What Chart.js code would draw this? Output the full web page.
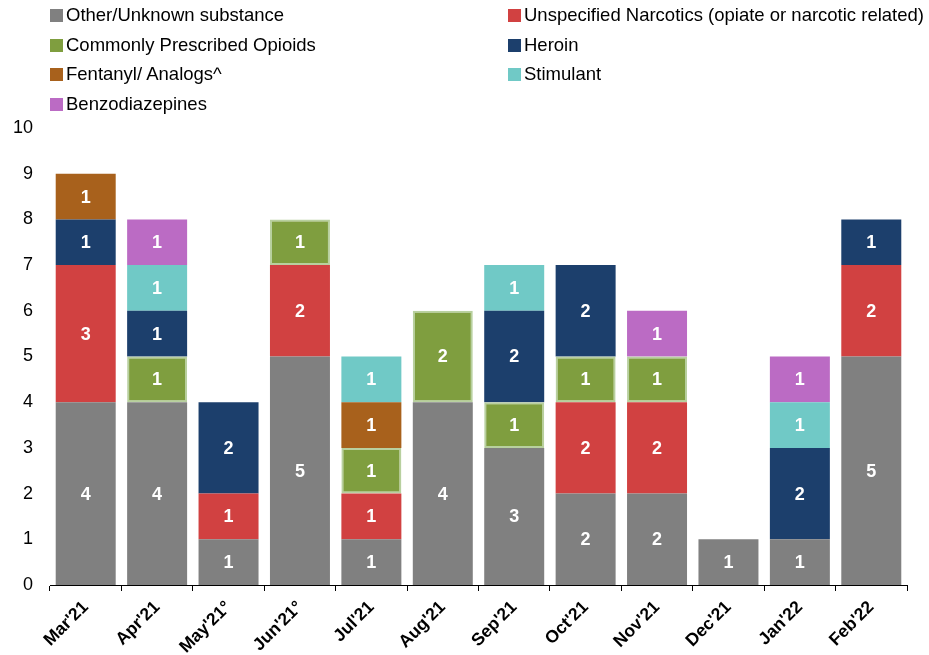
<!DOCTYPE html>
<html>
<head>
<meta charset="utf-8">
<script src="https://cdn.jsdelivr.net/npm/chart.js@4"></script>
<style>
  html, body { margin: 0; padding: 0; background: #fff; }
  #wrap { position: relative; width: 929px; height: 655px; }
  #legend { position: absolute; left: 0; top: 0; width: 929px; font-family: "Liberation Sans", Arial, sans-serif; font-size: 18.5px; color: #000; }
  .item { position: absolute; white-space: nowrap; line-height: 22px; }
  .box { display: inline-block; width: 13px; height: 13px; margin-right: 3px; vertical-align: -1px; }
</style>
</head>
<body>
<div id="wrap">
  <canvas id="c" width="929" height="655"></canvas>
  <div id="legend"></div>
</div>
<script>
const months = ["Mar'21", "Apr'21", "May'21°", "Jun'21°", "Jul'21", "Aug'21", "Sep'21", "Oct'21", "Nov'21", "Dec'21", "Jan'22", "Feb'22"];
const other = [4, 4, 1, 5, 1, 4, 3, 2, 2, 1, 1, 5];
const unspecified = [3, 0, 1, 2, 1, 0, 0, 2, 2, 0, 0, 2];
const prescribed = [0, 1, 0, 1, 1, 2, 1, 1, 1, 0, 0, 0];
const heroin = [1, 1, 2, 0, 0, 0, 2, 2, 0, 0, 2, 1];
const fentanyl = [1, 0, 0, 0, 1, 0, 0, 0, 0, 0, 0, 0];
const stimulant = [0, 1, 0, 0, 1, 0, 1, 0, 0, 0, 1, 0];
const benzo = [0, 1, 0, 0, 0, 0, 0, 0, 1, 0, 1, 0];
const yTicks = [0, 1, 2, 3, 4, 5, 6, 7, 8, 9, 10];

const FONT = '"Liberation Sans", Arial, sans-serif';
const nz = arr => arr.map(v => v === 0 ? null : v);

const series = [
  { label: 'Other/Unknown substance', data: other, color: '#808080' },
  { label: 'Unspecified Narcotics (opiate or narcotic related)', data: unspecified, color: '#d14141' },
  { label: 'Commonly Prescribed Opioids', data: prescribed, color: '#7f9e3f', border: '#b8d09f' },
  { label: 'Heroin', data: heroin, color: '#1c3f6c' },
  { label: 'Fentanyl/ Analogs^', data: fentanyl, color: '#a8611c' },
  { label: 'Stimulant', data: stimulant, color: '#70c9c6' },
  { label: 'Benzodiazepines', data: benzo, color: '#bb6bc4' }
];

// legend in two columns, row-wise like the original
const legendEl = document.getElementById('legend');
series.forEach((s, i) => {
  const d = document.createElement('div');
  d.className = 'item';
  d.style.left = (i % 2 === 0 ? 50 : 508) + 'px';
  d.style.top = (4 + Math.floor(i / 2) * 29.7) + 'px';
  d.innerHTML = `<span class="box" style="background:${s.color}"></span>${s.label}`;
  legendEl.appendChild(d);
});

const valueLabels = {
  id: 'valueLabels',
  afterDatasetsDraw(chart) {
    const ctx = chart.ctx;
    ctx.save();
    ctx.fillStyle = '#fff';
    ctx.font = 'bold 18px ' + FONT;
    ctx.textAlign = 'center';
    ctx.textBaseline = 'middle';
    chart.data.datasets.forEach((ds, di) => {
      chart.getDatasetMeta(di).data.forEach((bar, i) => {
        const v = ds.data[i];
        if (!v) return;
        ctx.fillText(String(v), bar.x, (bar.y + bar.base) / 2 + 1);
      });
    });
    ctx.restore();
  }
};

new Chart(document.getElementById('c'), {
  type: 'bar',
  data: {
    labels: months,
    datasets: series.map(s => ({
      label: s.label,
      data: nz(s.data),
      backgroundColor: s.color,
      borderColor: s.border || s.color,
      borderWidth: s.border ? 2 : 0,
      borderSkipped: false,
      barPercentage: 0.84,
      categoryPercentage: 1
    }))
  },
  options: {
    responsive: false,
    animation: false,
    layout: { padding: { top: 128, right: 22, left: 0, bottom: 0 } },
    plugins: { legend: { display: false }, tooltip: { enabled: false } },
    scales: {
      x: {
        stacked: true,
        grid: { display: true, drawOnChartArea: false, drawTicks: true, tickLength: 6, color: '#000', offset: true },
        border: { display: true, color: '#000', width: 1 },
        ticks: { color: '#000', font: { family: FONT, size: 17.5, weight: 'bold' }, maxRotation: 45, minRotation: 45, padding: 6 },
        afterFit: a => { a.height = 70; }
      },
      y: {
        stacked: true,
        min: 0,
        max: 10,
        afterBuildTicks: a => { a.ticks = yTicks.map(v => ({ value: v })); },
        grid: { display: false },
        border: { display: false },
        ticks: { color: '#000', font: { family: FONT, size: 18 }, padding: 9 },
        afterFit: a => { a.width = 50; }
      }
    }
  },
  plugins: [valueLabels]
});
</script>
</body>
</html>
